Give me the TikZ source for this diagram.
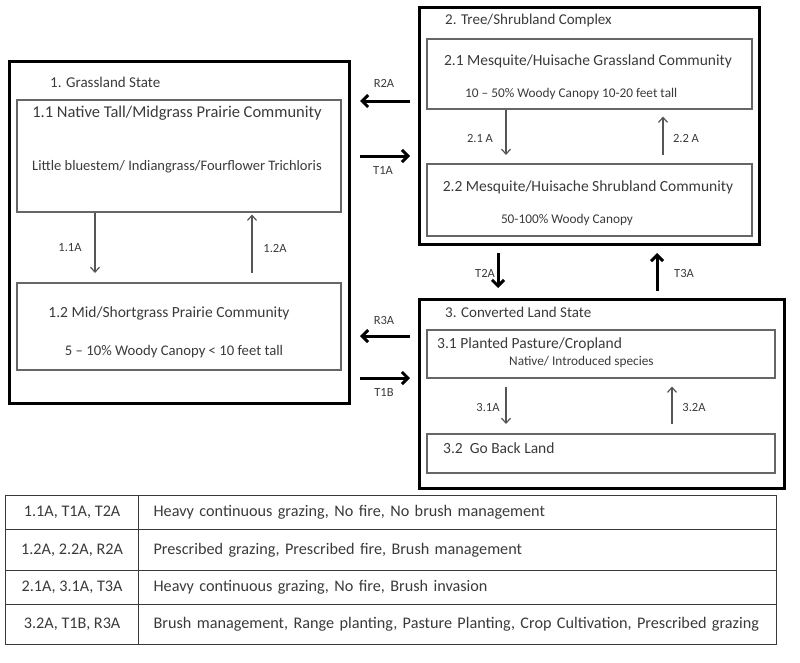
\documentclass[tikz,border=0pt]{standalone}
\usepackage{fontspec}
\setmainfont{Carlito}
\usetikzlibrary{arrows.meta,calc}
\definecolor{txt}{HTML}{3A3A3A}
\definecolor{inner}{HTML}{666666}
\definecolor{arr}{HTML}{555555}
\begin{document}
\begin{tikzpicture}[x=1pt,y=-1pt,
  outerbox/.style={draw=black,line width=3pt,rectangle,inner sep=0pt,anchor=north west},
  innerbox/.style={draw=inner,line width=1.5pt,rectangle,inner sep=0pt,anchor=north west},
  ttl/.style={text=txt,font=\fontsize{15}{17}\selectfont,inner sep=0pt},
  comm/.style={text=txt,font=\fontsize{15.5}{17}\selectfont,inner sep=0pt},
  detail/.style={text=txt,font=\fontsize{13.3}{15}\selectfont,inner sep=0pt},
  lbl/.style={text=txt,font=\fontsize{12.5}{14}\selectfont,inner sep=0pt},
  small/.style={draw=arr,line width=1.2pt,-{Straight Barb[length=5pt,width=9pt]}},
  big/.style={draw=black,line width=3pt,-{Straight Barb[length=6pt,width=12pt]}},
  cell/.style={draw=txt,line width=1.2pt,rectangle,anchor=north west,inner sep=0pt,text=txt,font=\fontsize{16.2}{18}\selectfont},
  wide/.style={cell,text width=608pt,inner xsep=15pt,align=left},
]
\useasboundingbox (0,0) rectangle (800,662);
% states
\node[outerbox,minimum width=340pt,minimum height=342pt] (s1) at (8,60) {};
\node[outerbox,minimum width=340pt,minimum height=237pt] (s2) at (418,6) {};
\node[outerbox,minimum width=365pt,minimum height=189pt] (s3) at (418,298) {};
% communities
\node[innerbox,minimum width=324pt,minimum height=112pt] (n11) at (16,99) {};
\node[innerbox,minimum width=324pt,minimum height=87pt] (n12) at (16,282) {};
\node[innerbox,minimum width=325pt,minimum height=70pt] (n21) at (426,38) {};
\node[innerbox,minimum width=325pt,minimum height=72pt] (n22) at (426,163) {};
\node[innerbox,minimum width=348pt,minimum height=48pt] (n31) at (426,329) {};
\node[innerbox,minimum width=348pt,minimum height=39pt] (n32) at (426,433) {};
% titles
\node[ttl,anchor=west] (t1) at (50,82) {1. Grassland State};
\node[ttl,anchor=west] (t2) at (445,20) {2. Tree/Shrubland Complex};
\node[ttl,anchor=west] (t3) at (445,312) {3. Converted Land State};
% texts
\node[comm,font=\fontsize{16.5}{18}\selectfont] (a11) at (177,113) {1.1 Native Tall/Midgrass Prairie Community};
\node[detail,font=\fontsize{14.5}{16}\selectfont] (b11) at (177,167) {Little bluestem/ Indiangrass/Fourflower Trichloris};
\node[comm] (a12) at (169,313) {1.2 Mid/Shortgrass Prairie Community};
\node[detail,font=\fontsize{14.7}{16}\selectfont] (b12) at (174,352) {5 -- 10\% Woody Canopy < 10 feet tall};
\node[comm] (a21) at (588,61) {2.1 Mesquite/Huisache Grassland Community};
\node[detail,anchor=west] (b21) at (465,94) {10 -- 50\% Woody Canopy 10-20 feet tall};
\node[comm] (a22) at (588,187) {2.2 Mesquite/Huisache Shrubland Community};
\node[detail] (b22) at (567,220) {50-100\% Woody Canopy};
\node[comm,font=\fontsize{15.5}{17}\selectfont,anchor=west] (a31) at (437,344) {3.1 Planted Pasture/Cropland};
\node[detail,anchor=west] (b31) at (509,362) {Native/ Introduced species};
\node[comm,anchor=west] (a32) at (443,448) {3.2\ \ Go Back Land};
% internal arrows
\draw[small] ($(n11.south west)+(79,0)$) -- ($(n12.north west)+(79,-9)$);
\draw[small] ($(n12.north west)+(236,-9)$) -- ($(n11.south west)+(236,2)$);
\draw[small] ($(n21.south west)+(80,0)$) -- ($(n22.north west)+(80,-8)$);
\draw[small] ($(n22.north west)+(237,-8)$) -- ($(n21.south west)+(237,7)$);
\draw[small] ($(n31.south west)+(80,8)$) -- ($(n32.north west)+(80,-9)$);
\draw[small] ($(n32.north west)+(246,-9)$) -- ($(n31.south west)+(246,8)$);
\node[lbl] (l11) at (70,248) {1.1A};
\node[lbl] (l12) at (275,248) {1.2A};
\node[lbl] (l21) at (480,138) {2.1 A};
\node[lbl] (l22) at (686,138) {2.2 A};
\node[lbl] (l31) at (488,407) {3.1A};
\node[lbl] (l32) at (694,407) {3.2A};
% transitions
\draw[big,shorten <=8pt,shorten >=9pt] (s2.west |- 0,101) -- (s1.east |- 0,101);
\draw[big,shorten <=9pt,shorten >=8pt] (s1.east |- 0,156) -- (s2.west |- 0,156);
\draw[big,shorten <=8pt,shorten >=9pt] (s3.west |- 0,336) -- (s1.east |- 0,336);
\draw[big,shorten <=9pt,shorten >=8pt] (s1.east |- 0,378) -- (s3.west |- 0,378);
\draw[big,shorten <=7pt,shorten >=10pt] (s2.south -| 498,0) -- (s3.north -| 498,0);
\draw[big,shorten <=7pt,shorten >=7pt] (s3.north -| 657,0) -- (s2.south -| 657,0);
\node[lbl] (r2a) at (384,83) {R2A};
\node[lbl] (t1a) at (383,170) {T1A};
\node[lbl] (r3a) at (384,320) {R3A};
\node[lbl] (t1b) at (384,392) {T1B};
\node[lbl] (t2a) at (485,273) {T2A};
\node[lbl] (t3a) at (684,273) {T3A};
% table
\node[cell,minimum width=133pt,minimum height=34pt] (c11) at (5,495) {1.1A, T1A, T2A};
\node[cell,minimum width=133pt,minimum height=41pt] (c21) at (5,529) {1.2A, 2.2A, R2A};
\node[cell,minimum width=133pt,minimum height=34pt] (c31) at (5,570) {2.1A, 3.1A, T3A};
\node[cell,minimum width=133pt,minimum height=40pt] (c41) at (5,604) {3.2A, T1B, R3A};
\node[wide,minimum height=34pt] (c12) at (138,495) {\mbox{Heavy continuous grazing, No fire, No brush management}};
\node[wide,minimum height=41pt] (c22) at (138,529) {\mbox{Prescribed grazing, Prescribed fire, Brush management}};
\node[wide,minimum height=34pt] (c32) at (138,570) {\mbox{Heavy continuous grazing, No fire, Brush invasion}};
\node[wide,minimum height=40pt] (c42) at (138,604) {\mbox{Brush management, Range planting, Pasture Planting, Crop Cultivation, Prescribed grazing}};
\end{tikzpicture}
\end{document}
